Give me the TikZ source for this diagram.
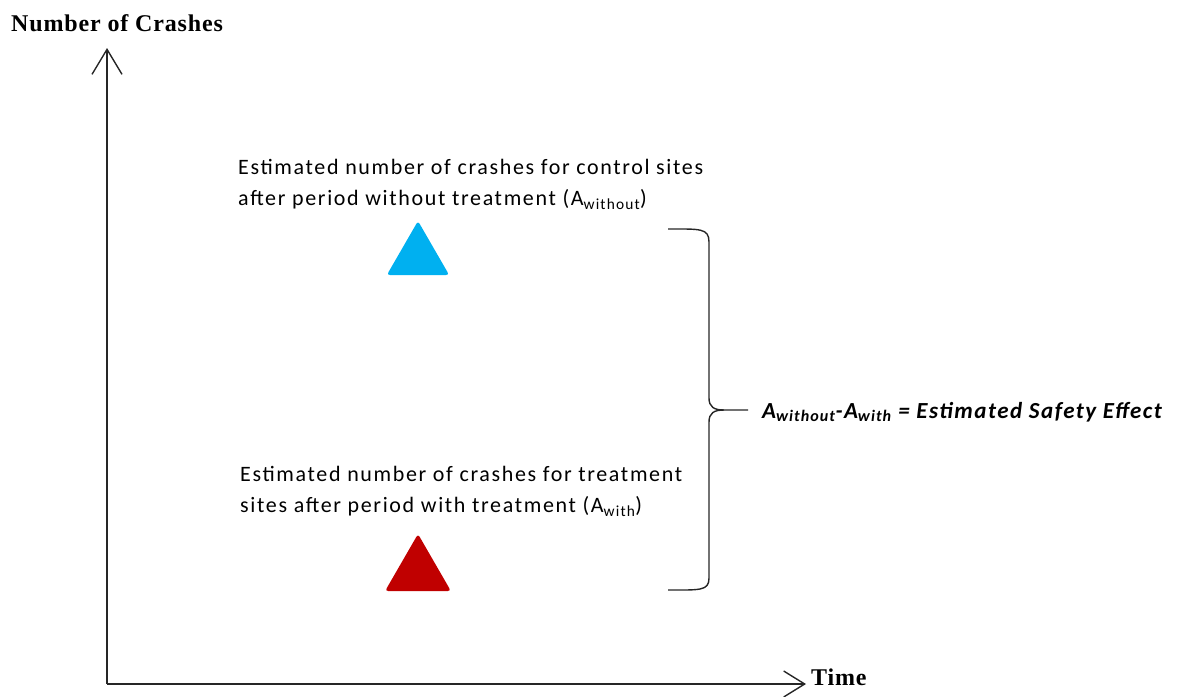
\documentclass[tikz,border=0pt]{standalone}
\usepackage{fontspec}
\setmainfont{Carlito}
\newfontfamily\timesfont[LetterSpace=3.5]{Liberation Serif}
\newfontfamily\descfont[LetterSpace=7.5]{Carlito}
\newfontfamily\efffont[LetterSpace=6.5]{Carlito}
\usetikzlibrary{arrows.meta,shapes.geometric}
\definecolor{tblue}{HTML}{00B0F0}
\definecolor{tred}{HTML}{C00000}
\begin{document}
\begin{tikzpicture}[x=1pt,y=-1pt,
  axis/.style={line width=1.4pt,draw=black!85},
  axtitle/.style={font=\timesfont\bfseries\fontsize{24}{28}\selectfont,inner sep=0pt},
  desc/.style={font=\descfont\fontsize{22}{31}\selectfont,align=left,inner sep=0pt,anchor=north west},
  tri/.style={regular polygon,regular polygon sides=3,inner sep=0pt,rounded corners=3pt,draw=none},
  bracestyle/.style={line width=1.4pt,draw=black!85},
  effect/.style={font=\efffont\bfseries\itshape\fontsize{23}{27}\selectfont,inner sep=0pt,anchor=west}]
\useasboundingbox (0,0) rectangle (1180,696);
% axes
\coordinate (O) at (107,684);
\coordinate (ytop) at (107,48);
\coordinate (xend) at (806,684);
\draw[axis,-{Straight Barb[length=25pt,width=30pt]}] (O) -- (ytop);
\draw[axis,-{Straight Barb[length=21pt,width=26pt]}] (O) -- (xend);
\node[axtitle,anchor=west] (ylab) at (11,23) {Number of Crashes};
\node[axtitle,anchor=west] (xlab) at (811,677) {Time};
% descriptions
\node[desc] (d1) at (238,159) {Estimated number of crashes for control sites\\after period without treatment (A\textsubscript{without})};
\node[desc] (d2) at (240,466) {Estimated number of crashes for treatment\\sites after period with treatment (A\textsubscript{with})};
% triangles
\node[tri,fill=tblue,minimum size=72pt] (t1) at (418,257) {};
\node[tri,fill=tred,minimum size=76pt] (t2) at (418,572) {};
% brace
\coordinate (bt) at (668,229);
\coordinate (bb) at (668,590);
\coordinate (tip) at (748,410);
\draw[bracestyle] (bt) .. controls (700,229) and (709,228) .. (709,242) -- (709,398)
  .. controls (709,407) and (714,410) .. (724,410) -- (tip);
\draw[bracestyle] (724,410) .. controls (714,410) and (709,413) .. (709,422) -- (709,578)
  .. controls (709,591) and (700,590) .. (bb);
\node[effect] (eff) at (762,412) {A\textsubscript{without}-A\textsubscript{with} = Estimated Safety Effect};
\end{tikzpicture}
\end{document}
